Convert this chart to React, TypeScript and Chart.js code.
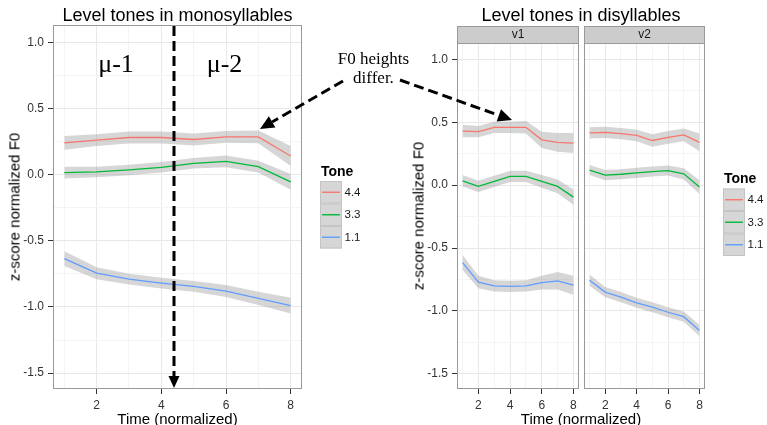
import React, { useEffect, useRef } from 'react';
import { Chart, registerables } from 'chart.js';

Chart.register(...registerables);

// ---------- data ----------
const TIME = [1, 2, 3, 4, 5, 6, 7, 8];
const TONES = ['4.4', '3.3', '1.1'];
const TONE_COLORS = ['#F8766D', '#00BA38', '#619CFF'];

// monosyllables: means and ribbon half-widths
const MONO_44 = [0.24, 0.26, 0.28, 0.28, 0.265, 0.285, 0.285, 0.14];
const MONO_33 = [0.015, 0.02, 0.035, 0.055, 0.085, 0.1, 0.06, -0.055];
const MONO_11 = [-0.635, -0.745, -0.79, -0.82, -0.845, -0.88, -0.935, -0.99];
const MONO_44_SE = [0.052, 0.045, 0.045, 0.045, 0.045, 0.045, 0.048, 0.075];
const MONO_33_SE = [0.045, 0.04, 0.04, 0.04, 0.04, 0.045, 0.045, 0.06];
const MONO_11_SE = [0.055, 0.045, 0.04, 0.04, 0.04, 0.045, 0.05, 0.06];

// disyllables, v1
const V1_44 = [0.43, 0.425, 0.46, 0.46, 0.46, 0.36, 0.34, 0.335];
const V1_33 = [0.035, -0.01, 0.03, 0.07, 0.07, 0.03, -0.01, -0.095];
const V1_11 = [-0.615, -0.77, -0.8, -0.805, -0.8, -0.775, -0.76, -0.795];
const V1_44_SE = [0.05, 0.045, 0.045, 0.045, 0.05, 0.065, 0.075, 0.08];
const V1_33_SE = [0.045, 0.045, 0.045, 0.045, 0.045, 0.05, 0.055, 0.06];
const V1_11_SE = [0.06, 0.05, 0.045, 0.045, 0.045, 0.055, 0.07, 0.075];

// disyllables, v2
const V2_44 = [0.415, 0.42, 0.41, 0.395, 0.355, 0.38, 0.4, 0.34];
const V2_33 = [0.12, 0.08, 0.087, 0.098, 0.108, 0.116, 0.09, -0.015];
const V2_11 = [-0.755, -0.85, -0.89, -0.935, -0.97, -1.01, -1.045, -1.155];
const V2_44_SE = [0.045, 0.045, 0.045, 0.045, 0.05, 0.05, 0.05, 0.07];
const V2_33_SE = [0.04, 0.04, 0.04, 0.04, 0.04, 0.04, 0.045, 0.055];
const V2_11_SE = [0.045, 0.04, 0.04, 0.04, 0.04, 0.04, 0.04, 0.045];

// ticks
const Y_MAJOR = [-1.5, -1, -0.5, 0, 0.5, 1];
const Y_MINOR = [-1.25, -0.75, -0.25, 0.25, 0.75];
const X_MAJOR = [2, 4, 6, 8];
const X_MINOR = [1, 3, 5, 7];
const Y_MIN = -1.62;
const Y_MAX = 1.13;
const X_MIN = 0.65;
const X_MAX = 8.35;

// ---------- styles ----------
const SANS = '"Liberation Sans", Arial, Helvetica, sans-serif';
const SERIF = '"Liberation Serif", "Times New Roman", serif';
const RIBBON = 'rgba(153,153,153,0.4)';
const GRID_MAJOR = '#e8e8e8';
const GRID_MINOR = '#f4f4f4';
const TICK_COLOR = '#333333';
const TICK_TEXT = '#333333';
const PANEL_BORDER = '#999999';

function makeDatasets(means: number[][], ses: number[][]) {
  const ribbons: any[] = [];
  means.forEach((m, i) => {
    ribbons.push({
      data: TIME.map((t, j) => ({ x: t, y: m[j] + ses[i][j] })),
      fill: '+1',
      backgroundColor: RIBBON,
      borderColor: 'rgba(0,0,0,0)',
      borderWidth: 0,
      pointRadius: 0,
      tension: 0,
      order: 2,
    });
    ribbons.push({
      data: TIME.map((t, j) => ({ x: t, y: m[j] - ses[i][j] })),
      fill: false,
      borderColor: 'rgba(0,0,0,0)',
      borderWidth: 0,
      pointRadius: 0,
      tension: 0,
      order: 2,
    });
  });
  const lines = means.map((m, i) => ({
    label: TONES[i],
    data: TIME.map((t, j) => ({ x: t, y: m[j] })),
    borderColor: TONE_COLORS[i],
    backgroundColor: TONE_COLORS[i],
    borderWidth: 1.3,
    pointRadius: 0,
    fill: false,
    tension: 0,
    order: 1,
  }));
  return [...ribbons, ...lines];
}

const isMajY = (v: number) => Y_MAJOR.some((m) => Math.abs(m - v) < 1e-9);
const isMajX = (v: number) => X_MAJOR.some((m) => Math.abs(m - v) < 1e-9);

function drawLegend(ctx: CanvasRenderingContext2D, x: number, y: number) {
  const bw = 22;
  const bh = 22.5;
  ctx.save();
  ctx.fillStyle = '#000';
  ctx.font = `bold 14px ${SANS}`;
  ctx.textAlign = 'left';
  ctx.textBaseline = 'middle';
  ctx.fillText('Tone', x + 1, y - 9);
  TONES.forEach((t, i) => {
    const top = y + i * bh;
    ctx.fillStyle = '#d6d6d6';
    ctx.fillRect(x, top, bw, bh);
    ctx.strokeStyle = '#c4c4c4';
    ctx.lineWidth = 1;
    ctx.strokeRect(x + 0.5, top + 0.5, bw - 1, bh - 1);
    ctx.strokeStyle = TONE_COLORS[i];
    ctx.lineWidth = 1.4;
    ctx.beginPath();
    ctx.moveTo(x + 2, top + bh / 2);
    ctx.lineTo(x + bw - 2, top + bh / 2);
    ctx.stroke();
    ctx.fillStyle = '#1a1a1a';
    ctx.font = `11.5px ${SANS}`;
    ctx.fillText(t, x + bw + 2.5, top + bh / 2 + 0.5);
  });
  ctx.restore();
}

const panelPlugin = {
  id: 'panel',
  beforeDraw(chart: any) {
    const { ctx } = chart;
    ctx.save();
    ctx.fillStyle = '#ffffff';
    ctx.fillRect(0, 0, chart.width, chart.height);
    ctx.restore();
  },
  afterDraw(chart: any, _args: any, opts: any) {
    const { ctx, chartArea: a } = chart;
    ctx.save();
    ctx.strokeStyle = PANEL_BORDER;
    ctx.lineWidth = 1;
    ctx.strokeRect(a.left + 0.5, a.top + 0.5, a.right - a.left - 1, a.bottom - a.top - 1);
    if (opts && opts.strip) {
      const h = 17;
      ctx.fillStyle = '#cccccc';
      ctx.fillRect(a.left, a.top - h, a.right - a.left, h);
      ctx.strokeRect(a.left + 0.5, a.top - h + 0.5, a.right - a.left - 1, h);
      ctx.fillStyle = '#1a1a1a';
      ctx.font = `12px ${SANS}`;
      ctx.textAlign = 'center';
      ctx.textBaseline = 'middle';
      ctx.fillText(opts.strip, (a.left + a.right) / 2, a.top - h / 2 + 0.5);
    }
    if (opts && opts.legend) {
      drawLegend(ctx, opts.legend.x - opts.offsetX, opts.legend.y);
    }
    ctx.restore();
  },
};

function makeOptions(p: {
  showY: boolean;
  yWidth: number;
  pad: { left: number; right: number; top: number; bottom: number };
  strip?: string;
  legend?: { x: number; y: number };
  offsetX: number;
}) {
  const yTicks = [...Y_MAJOR, ...Y_MINOR].sort((a, b) => a - b);
  const xTicks = [...X_MAJOR, ...X_MINOR].sort((a, b) => a - b);
  return {
    responsive: false,
    animation: false,
    events: [],
    layout: { padding: p.pad },
    plugins: {
      legend: { display: false },
      tooltip: { enabled: false },
      title: { display: false },
      panel: { strip: p.strip, legend: p.legend, offsetX: p.offsetX },
    },
    scales: {
      x: {
        type: 'linear',
        min: X_MIN,
        max: X_MAX,
        bounds: 'data',
        afterBuildTicks: (s: any) => {
          s.ticks = xTicks.map((v) => ({ value: v }));
        },
        afterFit: (s: any) => {
          s.height = 36;
        },
        grid: {
          color: (c: any) => (c.tick && isMajX(c.tick.value) ? GRID_MAJOR : GRID_MINOR),
          tickLength: 5,
          tickColor: (c: any) => (c.tick && isMajX(c.tick.value) ? TICK_COLOR : 'rgba(0,0,0,0)'),
        },
        border: { display: false },
        ticks: {
          autoSkip: false,
          maxRotation: 0,
          minRotation: 0,
          padding: 4,
          color: TICK_TEXT,
          font: { size: 12, family: SANS },
          callback: (v: any) => (isMajX(Number(v)) ? String(v) : ''),
        },
      },
      y: {
        type: 'linear',
        min: Y_MIN,
        max: Y_MAX,
        bounds: 'data',
        afterBuildTicks: (s: any) => {
          s.ticks = yTicks.map((v) => ({ value: v }));
        },
        afterFit: (s: any) => {
          s.width = p.yWidth;
        },
        grid: {
          color: (c: any) => (c.tick && isMajY(c.tick.value) ? GRID_MAJOR : GRID_MINOR),
          tickLength: 5,
          drawTicks: p.showY,
          tickColor: (c: any) => (c.tick && isMajY(c.tick.value) ? TICK_COLOR : 'rgba(0,0,0,0)'),
        },
        border: { display: false },
        ticks: {
          display: p.showY,
          autoSkip: false,
          padding: 4,
          color: TICK_TEXT,
          font: { size: 12, family: SANS },
          callback: (v: any) => (isMajY(Number(v)) ? Number(v).toFixed(1) : ''),
        },
      },
    },
  };
}

function drawArrow(
  ctx: CanvasRenderingContext2D,
  x1: number,
  y1: number,
  x2: number,
  y2: number,
  headLen: number,
  headHalf: number
) {
  const ang = Math.atan2(y2 - y1, x2 - x1);
  const c = Math.cos(ang);
  const s = Math.sin(ang);
  const bx = x2 - headLen * c;
  const by = y2 - headLen * s;
  ctx.save();
  ctx.strokeStyle = '#000';
  ctx.fillStyle = '#000';
  ctx.lineWidth = 3;
  ctx.setLineDash([10, 5]);
  ctx.beginPath();
  ctx.moveTo(x1, y1);
  ctx.lineTo(bx, by);
  ctx.stroke();
  ctx.setLineDash([]);
  ctx.beginPath();
  ctx.moveTo(x2, y2);
  ctx.lineTo(bx + headHalf * s, by - headHalf * c);
  ctx.lineTo(bx - headHalf * s, by + headHalf * c);
  ctx.closePath();
  ctx.fill();
  ctx.restore();
}

function Label(props: {
  x: number;
  y: number;
  size: number;
  family?: string;
  rotate?: number;
  children: React.ReactNode;
}) {
  const { x, y, size, family = SANS, rotate = 0, children } = props;
  return (
    <div
      style={{
        position: 'absolute',
        left: x,
        top: y,
        transform: `translate(-50%, -50%)${rotate ? ` rotate(${rotate}deg)` : ''}`,
        fontSize: size,
        fontFamily: family,
        lineHeight: 1,
        whiteSpace: 'nowrap',
        color: '#000',
      }}
    >
      {children}
    </div>
  );
}

export default function App() {
  const leftRef = useRef<HTMLCanvasElement>(null);
  const v1Ref = useRef<HTMLCanvasElement>(null);
  const v2Ref = useRef<HTMLCanvasElement>(null);
  const overlayRef = useRef<HTMLCanvasElement>(null);

  useEffect(() => {
    Chart.defaults.font.family = SANS;
    const charts: Chart[] = [];
    charts.push(
      new Chart(leftRef.current as HTMLCanvasElement, {
        type: 'line',
        data: {
          datasets: makeDatasets([MONO_44, MONO_33, MONO_11], [MONO_44_SE, MONO_33_SE, MONO_11_SE]),
        },
        options: makeOptions({
          showY: true,
          yWidth: 53,
          pad: { left: 0, right: 370 - 302, top: 25, bottom: 0 },
          legend: { x: 320, y: 181 },
          offsetX: 0,
        }) as any,
        plugins: [panelPlugin],
      })
    );
    charts.push(
      new Chart(v1Ref.current as HTMLCanvasElement, {
        type: 'line',
        data: {
          datasets: makeDatasets([V1_44, V1_33, V1_11], [V1_44_SE, V1_33_SE, V1_11_SE]),
        },
        options: makeOptions({
          showY: true,
          yWidth: 57,
          pad: { left: 0, right: 3, top: 43, bottom: 0 },
          strip: 'v1',
          offsetX: 400,
        }) as any,
        plugins: [panelPlugin],
      })
    );
    charts.push(
      new Chart(v2Ref.current as HTMLCanvasElement, {
        type: 'line',
        data: {
          datasets: makeDatasets([V2_44, V2_33, V2_11], [V2_44_SE, V2_33_SE, V2_11_SE]),
        },
        options: makeOptions({
          showY: false,
          yWidth: 0,
          pad: { left: 2, right: 62, top: 43, bottom: 0 },
          strip: 'v2',
          legend: { x: 723, y: 188.5 },
          offsetX: 582,
        }) as any,
        plugins: [panelPlugin],
      })
    );

    const oc = overlayRef.current as HTMLCanvasElement;
    const ctx = oc.getContext('2d') as CanvasRenderingContext2D;
    ctx.clearRect(0, 0, oc.width, oc.height);
    drawArrow(ctx, 174, 26, 174, 388, 12, 5.5);
    drawArrow(ctx, 343, 81, 260, 129, 14, 6.5);
    drawArrow(ctx, 400, 80, 512, 120, 14, 6.5);

    return () => {
      charts.forEach((c) => c.destroy());
    };
  }, []);

  return (
    <div
      style={{
        position: 'absolute',
        left: 0,
        top: 0,
        width: 767,
        height: 425,
        background: '#ffffff',
        overflow: 'hidden',
        fontFamily: SANS,
      }}
    >
      <canvas
        ref={leftRef}
        width={370}
        height={425}
        style={{ position: 'absolute', left: 0, top: 0, width: 370, height: 425 }}
      />
      <canvas
        ref={v1Ref}
        width={182}
        height={425}
        style={{ position: 'absolute', left: 400, top: 0, width: 182, height: 425 }}
      />
      <canvas
        ref={v2Ref}
        width={185}
        height={425}
        style={{ position: 'absolute', left: 582, top: 0, width: 185, height: 425 }}
      />

      <Label x={177.5} y={15} size={18}>Level tones in monosyllables</Label>
      <Label x={581} y={15} size={18}>Level tones in disyllables</Label>
      <Label x={177.5} y={417.5} size={15}>Time (normalized)</Label>
      <Label x={581} y={417.5} size={15}>Time (normalized)</Label>
      <Label x={14} y={207} size={15} rotate={-90}>z-score normalized F0</Label>
      <Label x={418} y={216} size={15} rotate={-90}>z-score normalized F0</Label>

      <Label x={116} y={64} size={26} family={SERIF}>μ-1</Label>
      <Label x={224.5} y={64} size={26} family={SERIF}>μ-2</Label>
      <Label x={373.5} y={58.3} size={17} family={SERIF}>F0 heights</Label>
      <Label x={373.5} y={77.3} size={17} family={SERIF}>differ.</Label>

      <canvas
        ref={overlayRef}
        width={767}
        height={425}
        style={{ position: 'absolute', left: 0, top: 0, width: 767, height: 425, pointerEvents: 'none' }}
      />
    </div>
  );
}
